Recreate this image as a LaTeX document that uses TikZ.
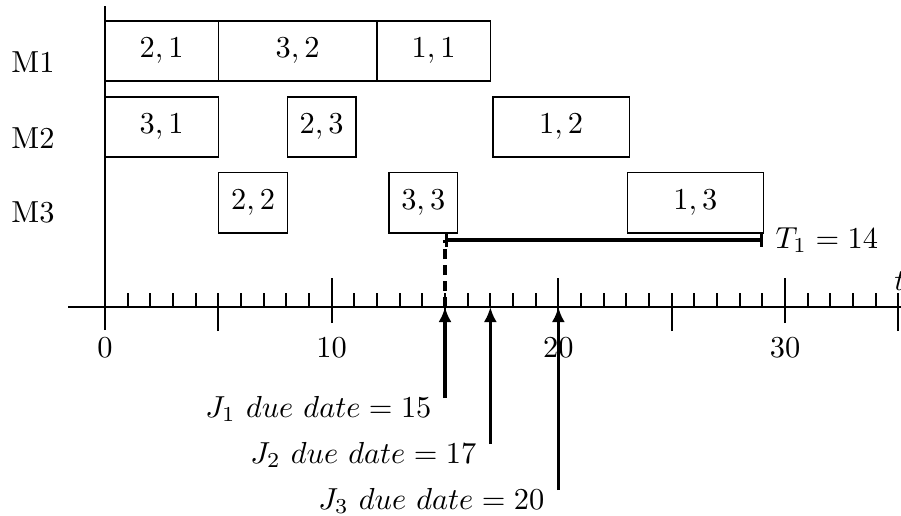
\documentclass[tikz,border=0pt]{standalone}
\usetikzlibrary{arrows.meta}
\begin{document}
\begin{tikzpicture}[x=11.3333pt,y=0.5pt,
  job/.style={draw, line width=0.6pt},
  lbl/.style={inner sep=0pt, font=\normalsize, scale=1.52},
  axisline/.style={line width=1pt},
  tickline/.style={line width=0.9pt},
  duearrow/.style={line width=1.6pt, -{Latex[length=7.5pt,width=6.5pt]}},
  tardy/.style={line width=1.6pt, {Bar[width=7pt]}-{Bar[width=7pt]}},
  drop/.style={line width=1.6pt, dash pattern=on 5pt off 3pt}]
\useasboundingbox (-4.632,-208) rectangle (35.117,307);

% axes
\coordinate (ytop) at (0,301);
\coordinate (ybot) at (0,-23);
\coordinate (xl) at (-1.632,0);
\coordinate (xr) at (35.3,0);
\draw[axisline] (ybot) -- (ytop);
\draw[axisline] (xl) -- (xr);

% ticks
\foreach \i in {1,2,3,4,6,7,8,9,11,12,13,14,16,17,18,19,21,22,23,24,26,27,28,29,31,32,33,34}
  \draw[tickline] (\i,0) -- (\i,14);
\foreach \i in {5,15,25,35}
  \draw[tickline] (\i,-24) -- (\i,14);
\foreach \i in {10,20,30}
  \draw[tickline] (\i,-16) -- (\i,29);

% axis numbers
\foreach \i in {0,10,20,30}
  \node[lbl, anchor=base] (n\i) at (\i,-50) {$\i$};
\node[lbl, anchor=base west] (tlab) at (34.8,17) {$t$};

% machine labels
\node[lbl, anchor=base] (m1) at (-3.176,235) {M1};
\node[lbl, anchor=base] (m2) at (-3.176,159) {M2};
\node[lbl, anchor=base] (m3) at (-3.176,85) {M3};

% M1 jobs
\draw[job] (0,226) rectangle (5,286);
\node[lbl] (b21) at (2.5,256) {$2,1$};
\draw[job] (5,226) rectangle (12,286);
\node[lbl] (b32) at (8.5,256) {$3,2$};
\draw[job] (12,226) rectangle (17,286);
\node[lbl] (b11) at (14.5,256) {$1,1$};

% M2 jobs
\draw[job] (0,150) rectangle (5,210);
\node[lbl] (b31) at (2.5,180) {$3,1$};
\draw[job] (8.04,150) rectangle (11.07,210);
\node[lbl] (b23) at (9.555,180) {$2,3$};
\draw[job] (17.12,150) rectangle (23.13,210);
\node[lbl] (b12) at (20.125,180) {$1,2$};

% M3 jobs
\draw[job] (5.02,74) rectangle (8.04,134.5);
\node[lbl] (b22) at (6.53,104) {$2,2$};
\draw[job] (12.53,74) rectangle (15.55,134.5);
\node[lbl] (b33) at (14.04,104) {$3,3$};
\draw[job] (23.04,74) rectangle (29.04,134.5);
\node[lbl] (b13) at (26.04,104) {$1,3$};

% tardiness
\coordinate (ts) at (15,67);
\coordinate (te) at (29.03,67);
\coordinate (a15) at (15,0);
\draw[drop] (a15) -- (ts);
\draw[tardy] (ts) -- (te);
\node[lbl, anchor=base west] (tl) at (29.56,59) {$T_1=14$};

% due dates
\coordinate (d1) at (15,-91);
\coordinate (d2) at (17,-137);
\coordinate (d3) at (20,-183);
\coordinate (a17) at (17,0);
\coordinate (a20) at (20,0);
\draw[duearrow] (d1) -- (a15);
\draw[duearrow] (d2) -- (a17);
\draw[duearrow] (d3) -- (a20);
\node[lbl, anchor=base east] (j1) at (14.43,-110) {$J_1~due~date=15$};
\node[lbl, anchor=base east] (j2) at (16.41,-156) {$J_2~due~date=17$};
\node[lbl, anchor=base east] (j3) at (19.41,-202) {$J_3~due~date=20$};
\end{tikzpicture}
\end{document}
